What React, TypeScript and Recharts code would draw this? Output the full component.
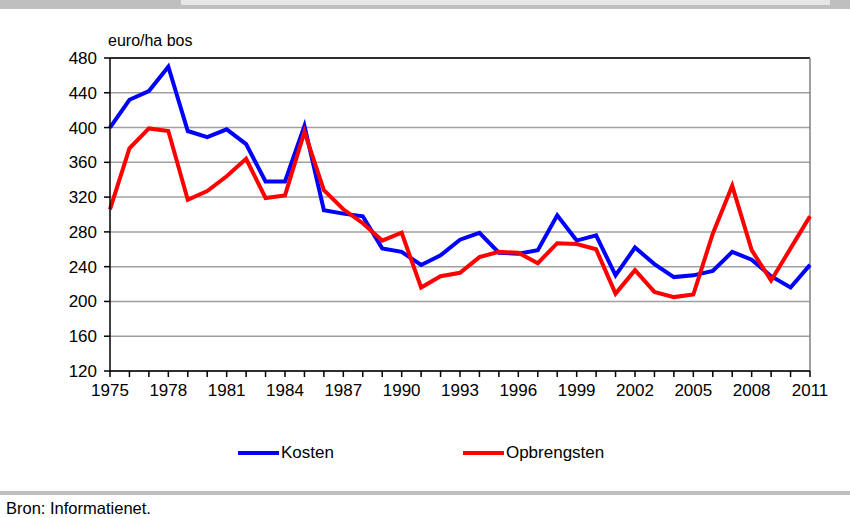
import React from 'react';
import {
  LineChart,
  Line,
  XAxis,
  YAxis,
  CartesianGrid,
  ReferenceLine
} from 'recharts';

const years = [
  1975, 1976, 1977, 1978, 1979, 1980, 1981, 1982, 1983, 1984,
  1985, 1986, 1987, 1988, 1989, 1990, 1991, 1992, 1993, 1994,
  1995, 1996, 1997, 1998, 1999, 2000, 2001, 2002, 2003, 2004,
  2005, 2006, 2007, 2008, 2009, 2010, 2011
];

const kosten = [
  400, 432, 442, 470, 396, 389, 398, 381, 338, 338,
  402, 305, 301, 298, 261, 257, 242, 253, 271, 279,
  256, 255, 259, 299, 270, 276, 230, 262, 243, 228,
  230, 235, 257, 248, 229, 216, 242
];

const opbrengsten = [
  306, 376, 399, 396, 317, 327, 344, 364, 319, 322,
  395, 328, 306, 290, 270, 279, 216, 229, 233, 251,
  257, 256, 244, 267, 266, 260, 209, 236, 211, 205,
  208, 278, 333, 259, 224, 261, 298
];

const yTicks = [120, 160, 200, 240, 280, 320, 360, 400, 440, 480];

const series = [
  { key: 'kosten', name: 'Kosten', color: '#0000ff' },
  { key: 'opbrengsten', name: 'Opbrengsten', color: '#ff0000' }
];

const data = years.map((year, i) => ({
  year,
  kosten: kosten[i],
  opbrengsten: opbrengsten[i]
}));

const font = '"Liberation Sans", Arial, sans-serif';

const App: React.FC = () => {
  return (
    <div
      style={{
        position: 'absolute',
        left: 0,
        top: 0,
        width: 850,
        height: 518,
        background: '#fff',
        fontFamily: font,
        overflow: 'hidden'
      }}
    >
      {/* top band with clipped title box */}
      <div style={{ position: 'absolute', left: 0, top: 0, width: 850, height: 9, background: '#bfbfbf' }} />
      <div style={{ position: 'absolute', left: 181, top: 0, width: 649, height: 5, background: '#e6e6e6' }} />

      <div style={{ position: 'absolute', left: 108, top: 32, fontSize: 16, color: '#000' }}>
        euro/ha bos
      </div>

      <div style={{ position: 'absolute', left: 0, top: 0 }}>
        <LineChart
          width={850}
          height={518}
          data={data}
          margin={{ top: 58, right: 40, bottom: 117, left: 0 }}
        >
          <CartesianGrid vertical={false} stroke="#a0a0a0" strokeWidth={1.5} />
          <XAxis
            dataKey="year"
            type="number"
            domain={[1975, 2011]}
            ticks={years}
            interval={0}
            height={30}
            tickSize={6}
            tickMargin={7}
            stroke="#000"
            strokeWidth={1.5}
            tickFormatter={(v: number) => ((v - 1975) % 3 === 0 ? String(v) : '')}
            tick={{ fill: '#000', fontSize: 17, fontFamily: font }}
          />
          <YAxis
            type="number"
            domain={[120, 480]}
            ticks={yTicks}
            interval={0}
            width={110}
            tickSize={6}
            tickMargin={7}
            stroke="#000"
            strokeWidth={1.5}
            tick={{ fill: '#000', fontSize: 17, fontFamily: font }}
          />
          <ReferenceLine y={480} stroke="#000" strokeWidth={1.5} />
          <ReferenceLine x={2011} stroke="#808080" strokeWidth={1.5} />
          {series.map((s) => (
            <Line
              key={s.key}
              dataKey={s.key}
              name={s.name}
              stroke={s.color}
              strokeWidth={4}
              dot={false}
              type="linear"
              isAnimationActive={false}
            />
          ))}
        </LineChart>
      </div>

      {/* legend */}
      <div style={{ position: 'absolute', left: 238, top: 443, display: 'flex', fontSize: 17 }}>
        {series.map((s, i) => (
          <div
            key={s.key}
            style={{ display: 'flex', alignItems: 'center', marginLeft: i === 0 ? 0 : 129 }}
          >
            <div style={{ width: 41, height: 4, background: s.color, marginRight: 2 }} />
            <span>{s.name}</span>
          </div>
        ))}
      </div>

      <div style={{ position: 'absolute', left: 0, top: 491, width: 850, height: 4, background: '#bfbfbf' }} />
      <div style={{ position: 'absolute', left: 6, top: 499, fontSize: 16.5, color: '#000' }}>
        Bron: Informatienet.
      </div>
    </div>
  );
};

export default App;
